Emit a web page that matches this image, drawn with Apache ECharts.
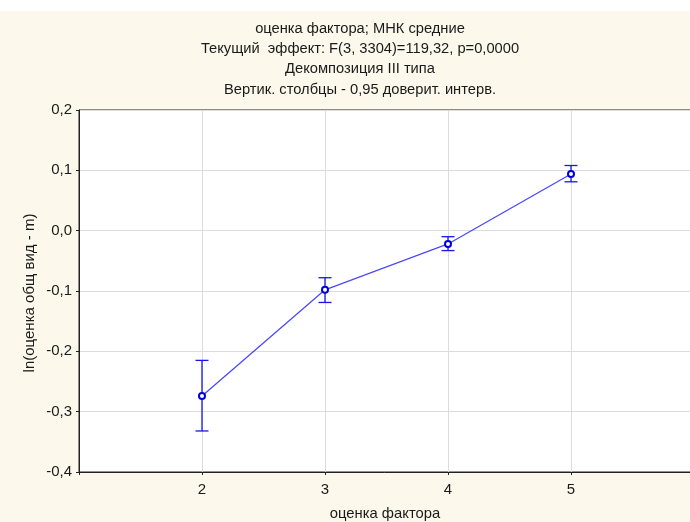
<!DOCTYPE html>
<html>
<head>
<meta charset="utf-8">
<script src="https://cdn.jsdelivr.net/npm/echarts@6/dist/echarts.min.js"></script>
<style>
html,body{margin:0;padding:0;background:#fff;}
#chart{width:690px;height:522px;}
</style>
</head>
<body>
<div id="chart"></div>
<script>
// Factor levels and least-squares means of ln(оценка общ вид - m)
const levels = [2, 3, 4, 5];
const means = [-0.274, -0.098, -0.022, 0.094];
const lower = [-0.332, -0.119, -0.033, 0.081];
const upper = [-0.215, -0.078, -0.010, 0.108];

const titleLines = [
  'оценка фактора; МНК средние',
  'Текущий  эффект: F(3, 3304)=119,32, p=0,0000',
  'Декомпозиция III типа',
  'Вертик. столбцы - 0,95 доверит. интерв.'
];
const xTitle = 'оценка фактора';
const yTitle = 'ln(оценка общ вид - m)';

const FONT = '"Liberation Sans", Arial, sans-serif';
const blue = '#1515ee';

const chart = echarts.init(document.getElementById('chart'), null, {renderer: 'canvas'});

const meanData = levels.map((x, i) => [x, means[i]]);
const barData = levels.map((x, i) => [x, lower[i], upper[i]]);

function fmtY(v) {
  if (Math.abs(v) < 1e-9) v = 0;
  return v.toFixed(1).replace('.', ',');
}

const graphics = [
  {type: 'rect', z: -10, silent: true, shape: {x: 0, y: 11, width: 690, height: 511}, style: {fill: '#fdf8ec'}}
];
titleLines.forEach((t, i) => {
  graphics.push({
    type: 'text', x: 360, y: 29 + i * 20.2, silent: true,
    style: {text: t, font: '14.7px ' + FONT, fill: '#1a1a1a', textAlign: 'center', textVerticalAlign: 'middle'}
  });
});
graphics.push({
  type: 'text', x: 30, y: 293, rotation: Math.PI / 2, silent: true,
  style: {text: yTitle, font: '15px ' + FONT, fill: '#1a1a1a', textAlign: 'center', textVerticalAlign: 'middle'}
});
graphics.push({
  type: 'text', x: 385, y: 514, silent: true,
  style: {text: xTitle, font: '14.8px ' + FONT, fill: '#1a1a1a', textAlign: 'center', textVerticalAlign: 'middle'}
});

chart.setOption({
  backgroundColor: '#fff',
  animation: false,
  graphic: graphics,
  grid: {
    left: 79, top: 110, width: 615, height: 362,
    outerBoundsMode: 'none', containLabel: false,
    show: true, backgroundColor: '#fff', borderColor: '#222', borderWidth: 1
  },
  xAxis: {
    type: 'value', min: 1, max: 6, interval: 1,
    axisLine: {show: true, onZero: false, lineStyle: {color: '#222', width: 1}},
    axisTick: {show: true, length: 3, lineStyle: {color: '#222'}},
    axisLabel: {
      margin: 10, color: '#1a1a1a', fontSize: 15, fontFamily: FONT,
      formatter: v => (levels.indexOf(v) >= 0 ? String(v) : '')
    },
    splitLine: {show: true, lineStyle: {color: '#dcdcdc', width: 1}}
  },
  yAxis: {
    type: 'value', min: -0.4, max: 0.2, interval: 0.1,
    axisLine: {show: true, onZero: false, lineStyle: {color: '#222', width: 1}},
    axisTick: {show: true, length: 3, lineStyle: {color: '#222'}},
    axisLabel: {margin: 7, color: '#1a1a1a', fontSize: 15, fontFamily: FONT, formatter: fmtY},
    splitLine: {show: true, lineStyle: {color: '#dcdcdc', width: 1}}
  },
  series: [
    {
      type: 'custom',
      name: 'ci',
      data: barData,
      z: 3,
      renderItem: function (params, api) {
        const x = api.value(0);
        const lo = api.coord([x, api.value(1)]);
        const hi = api.coord([x, api.value(2)]);
        const half = 6.5;
        const st = {stroke: blue, lineWidth: 1.3, fill: null};
        return {
          type: 'group',
          children: [
            {type: 'line', shape: {x1: lo[0], y1: lo[1], x2: hi[0], y2: hi[1]}, style: st},
            {type: 'line', shape: {x1: lo[0] - half, y1: lo[1], x2: lo[0] + half, y2: lo[1]}, style: st},
            {type: 'line', shape: {x1: hi[0] - half, y1: hi[1], x2: hi[0] + half, y2: hi[1]}, style: st}
          ]
        };
      }
    },
    {
      type: 'line',
      name: 'mean',
      data: meanData,
      z: 4,
      lineStyle: {color: '#4a4aff', width: 1.3},
      symbol: 'emptyCircle',
      symbolSize: 6,
      showSymbol: true,
      itemStyle: {color: '#0000dd', borderColor: '#0000dd', borderWidth: 1.5}
    }
  ]
});
</script>
</body>
</html>
